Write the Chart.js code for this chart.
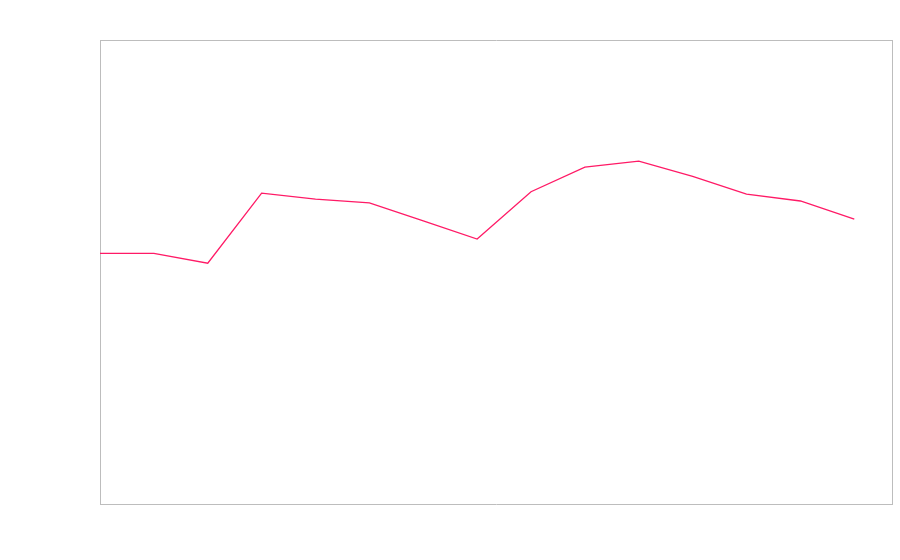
<!DOCTYPE html>
<html lang="en">
  <head>
    <meta charset="UTF-8" />
    <title>Line</title>
    <script src="https://cdn.jsdelivr.net/npm/chart.js"></script>
    <style>
      html, body { margin: 0; padding: 0; background: #fff; }
      #wrap { width: 900px; height: 560px; }
    </style>
  </head>
  <body>
    <div id="wrap"><canvas id="lineChart"></canvas></div>
    <script>
      // values (no axis labels shown)
      const steps = [0, 1, 2, 3, 4, 5, 6, 7, 8, 9, 10, 11, 12, 13, 14];
      const values = [54.0, 54.0, 51.9, 67.0, 65.7, 64.9, 61.0, 57.1, 67.3, 72.6, 73.9, 70.6, 66.8, 65.3, 61.4];
      const xRange = [0, 14.7];
      const yRange = [0, 100];

      const points = steps.map((s, i) => ({ x: s, y: values[i] }));
      const frameColor = "#bdbdbd";

      // hidden axis with only its border, used for the top/right edges of the box
      const edge = (position, axis, range) => ({
        type: "linear",
        position: position,
        axis: axis,
        min: range[0],
        max: range[1],
        grid: { display: false, drawTicks: false },
        ticks: { display: false },
        border: { display: true, color: frameColor, width: 1 },
      });

      new Chart(document.getElementById("lineChart"), {
        type: "line",
        data: {
          datasets: [
            {
              data: points,
              borderColor: "#ff1a66",
              borderWidth: 1.3,
              pointRadius: 0,
              tension: 0,
              fill: false,
            },
          ],
        },
        options: {
          responsive: true,
          maintainAspectRatio: false,
          animation: false,
          layout: { padding: { left: 100, top: 40, right: 8, bottom: 56 } },
          plugins: { legend: { display: false }, tooltip: { enabled: false } },
          scales: {
            x: edge("bottom", "x", xRange),
            y: edge("left", "y", yRange),
            x2: edge("top", "x", xRange),
            y2: edge("right", "y", yRange),
          },
        },
      });
    </script>
  </body>
</html>
